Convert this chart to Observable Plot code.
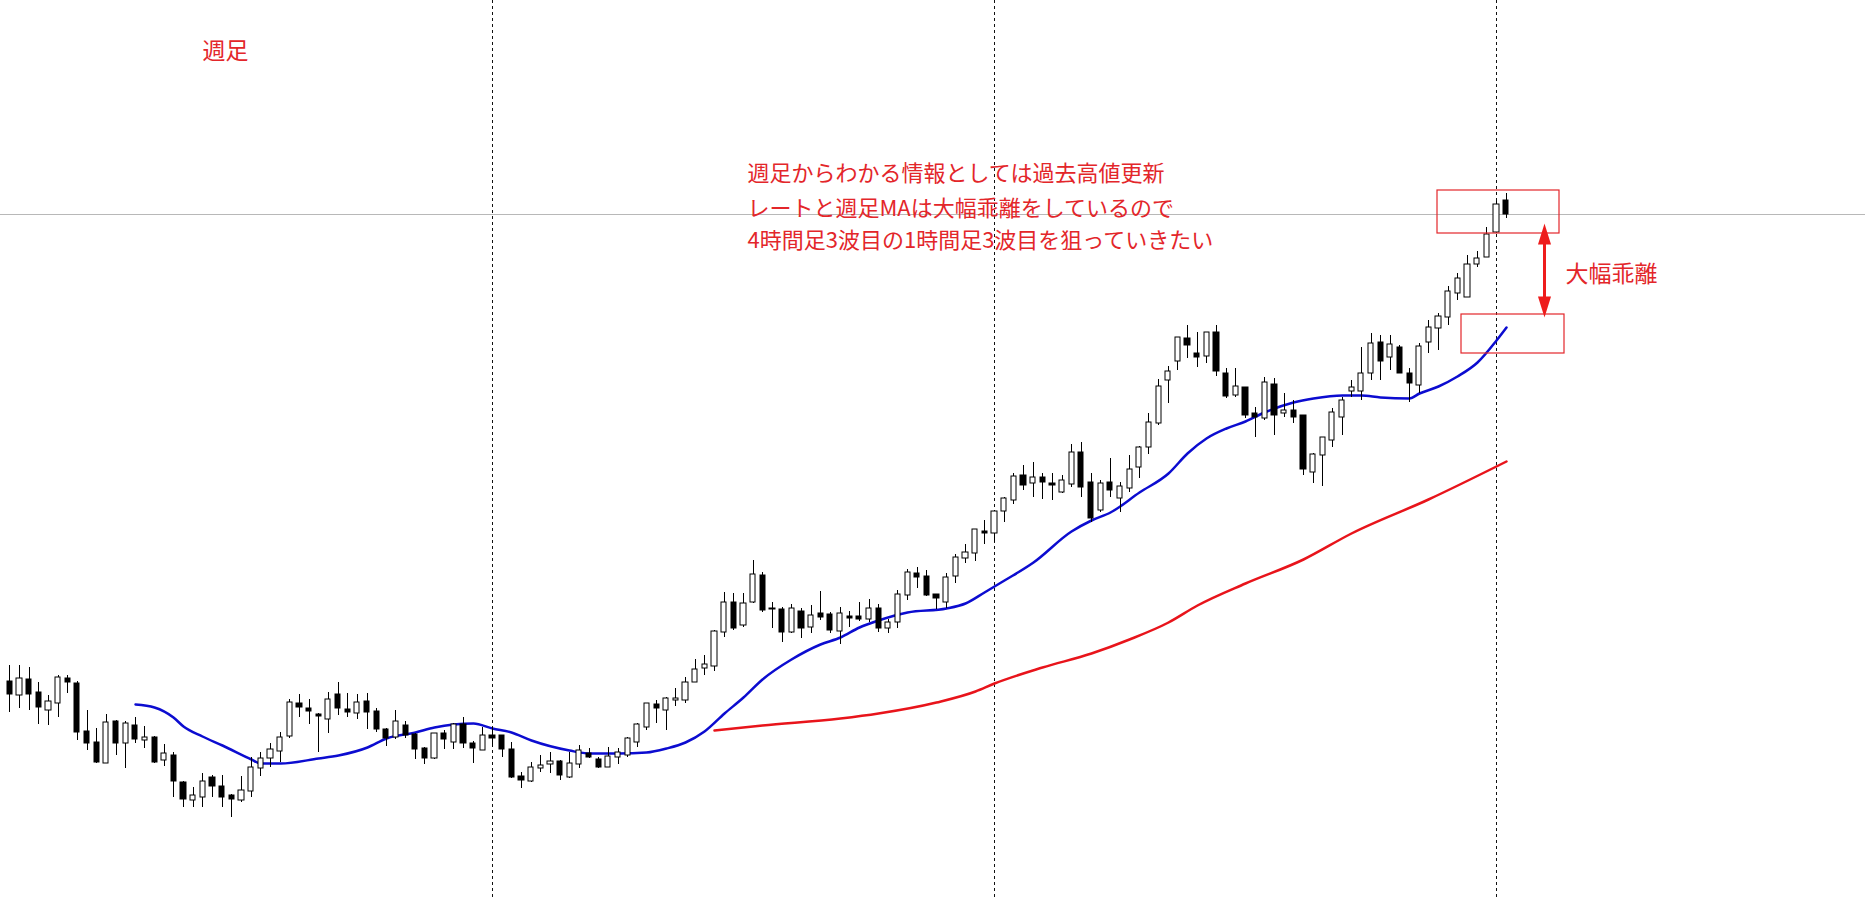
<!DOCTYPE html>
<html><head><meta charset="utf-8">
<script src="https://cdn.jsdelivr.net/npm/d3@7"></script>
<script src="https://cdn.jsdelivr.net/npm/@observablehq/plot@0.6"></script>
<style>html,body{margin:0;padding:0;background:#fff;overflow:hidden}#chart svg{display:block}</style>
</head><body><div id="chart"></div>
<script>
// weekly candles (index 0..155)
const openP = [101.9,100.5,102.1,100.8,99.0,99.7,102.2,101.7,96.9,95.8,
93.7,97.9,95.7,97.5,96.0,96.3,94.0,94.5,91.8,90.0,
90.3,92.3,91.4,90.5,90.0,90.9,93.2,94.2,94.9,96.4,
99.7,99.2,98.6,98.1,100.6,99.1,98.7,99.9,98.9,97.1,
96.3,97.5,96.6,95.2,94.2,96.7,95.8,97.6,95.7,95.0,
96.5,96.5,95.1,92.4,91.9,93.2,93.6,93.9,92.3,93.6,
94.7,94.1,93.3,94.3,94.5,95.8,97.3,99.6,99.0,100.0,
100.0,101.8,103.2,103.4,106.8,109.8,107.5,109.8,112.5,109.2,
109.1,106.8,108.9,107.3,108.7,108.6,106.9,108.4,108.4,108.1,
109.2,107.2,107.8,110.5,112.7,112.4,110.6,109.8,112.4,114.2,
114.7,116.9,116.7,118.9,120.0,122.5,121.7,122.3,121.7,120.8,
121.6,124.8,121.8,119.0,121.8,120.2,121.2,123.3,125.3,127.7,
132.0,133.9,136.2,134.7,134.4,136.8,132.7,130.5,131.3,128.7,
128.2,131.6,128.7,129.0,128.5,122.8,124.5,126.0,128.3,130.9,
130.9,132.7,135.8,134.3,135.3,132.7,131.5,135.8,137.2,138.3,
140.7,140.3,143.6,144.3,146.8,150.0];
const highP = [103.5,103.5,103.3,101.8,100.5,102.5,102.5,101.9,99.0,97.2,
98.6,98.0,97.9,98.3,97.4,96.4,95.6,94.8,91.9,91.3,
92.7,92.5,92.5,90.6,92.4,94.3,94.8,95.7,96.8,100.1,
100.6,100.1,98.7,100.8,101.8,100.7,100.6,100.7,99.2,97.2,
99.0,97.9,96.7,95.3,96.7,97.0,97.7,98.3,95.9,97.3,
97.3,96.5,95.8,92.8,93.8,94.5,94.8,94.0,94.8,95.5,
95.2,94.3,95.3,95.2,96.3,97.7,99.7,100.0,100.3,101.2,
102.3,104.1,104.5,107.0,110.8,110.7,110.7,114.0,112.8,109.8,
109.3,109.6,109.2,109.5,110.9,108.8,109.3,108.9,109.8,110.1,
109.6,108.1,111.0,113.1,113.3,113.0,110.6,112.7,114.6,115.6,
117.1,118.0,119.0,120.3,122.7,123.5,123.8,122.7,122.7,122.5,
125.6,125.8,122.7,122.0,124.2,121.8,124.5,125.4,128.7,132.1,
133.4,136.3,137.5,136.8,136.8,137.5,133.2,133.2,131.3,129.3,
132.3,132.2,130.7,130.0,128.5,124.7,126.3,129.2,130.3,132.0,
135.3,136.7,136.5,136.5,135.5,133.2,135.7,138.0,138.7,141.4,
142.7,144.5,144.9,147.3,149.9,150.7];
const lowP = [98.8,99.2,99.0,97.6,97.5,98.3,100.7,96.0,95.0,93.7,
93.7,94.5,93.2,95.7,95.2,93.7,93.4,90.3,89.3,89.3,
89.3,90.3,89.3,88.3,89.8,90.3,92.4,93.3,93.8,96.2,
98.3,97.6,94.8,96.7,98.5,98.3,98.1,97.1,96.8,95.4,
96.1,96.2,94.1,93.6,94.1,95.1,95.1,95.2,93.7,95.0,
95.3,94.3,92.2,91.2,91.8,92.8,92.7,92.0,92.2,93.2,
94.2,93.2,93.3,93.6,94.3,95.3,97.0,97.7,97.0,99.4,
99.7,101.8,102.5,102.9,106.3,107.0,107.3,109.7,108.8,107.2,
105.8,106.7,106.2,106.7,108.0,106.7,105.6,107.3,107.9,107.8,
106.8,106.7,107.2,110.0,111.2,110.4,109.1,109.2,111.7,113.7,
113.9,115.6,115.8,117.8,119.6,121.0,120.3,120.1,120.0,120.7,
121.3,120.3,117.8,118.8,120.3,118.8,120.8,122.2,124.6,127.5,
129.7,133.0,134.2,133.3,133.7,132.4,130.2,130.3,128.2,126.3,
128.0,126.5,128.3,127.7,122.5,121.7,121.4,125.3,126.5,130.3,
130.0,132.0,132.0,133.0,132.7,129.8,130.7,134.7,135.0,137.5,
140.0,140.3,143.3,144.3,146.7,148.2];
const closeP = [100.6,102.2,100.6,99.3,99.9,102.3,101.8,96.8,95.7,93.8,
97.8,95.7,97.7,96.1,96.3,93.8,94.7,91.9,90.1,90.5,
91.9,91.4,90.3,90.1,91.0,93.3,94.2,95.1,96.3,99.8,
99.3,98.9,98.4,100.1,99.2,98.8,99.8,98.8,97.1,96.2,
97.9,96.5,95.1,94.2,96.7,96.1,97.6,95.7,95.2,96.5,
96.2,95.1,92.3,92.0,93.3,93.5,93.9,92.5,93.7,95.0,
94.3,93.3,94.4,94.8,96.2,97.6,99.7,99.2,100.2,100.2,
101.8,103.1,103.6,106.9,109.8,107.2,109.7,112.6,109.0,109.1,
106.8,109.2,107.2,108.5,108.3,107.0,108.7,108.2,108.1,109.2,
107.2,107.8,110.6,112.8,112.3,110.5,110.2,112.3,114.3,114.8,
117.1,116.7,118.9,120.2,122.4,121.5,122.3,121.8,121.5,122.0,
124.8,121.3,118.2,121.7,121.0,121.4,123.1,125.3,127.8,131.4,
132.9,136.3,135.5,134.3,136.8,132.9,130.4,131.4,128.5,128.3,
131.8,128.5,129.0,128.3,123.1,124.6,126.3,128.8,130.0,131.3,
132.7,135.7,133.9,135.6,132.7,131.7,135.4,137.3,138.4,140.9,
142.2,143.6,144.2,146.6,149.6,148.6];

// weekly moving averages (week index, value)
const maFastWeek = [13,15,17,18,20,22,25,26,28,32,34,37,39,42,44,46,48,50,52,54,58,60,63,66,68,70,72,74,76,78,81,84,86,88,90,93,97,99,101,103,106,110,112,114,117,120,122,124,126,128,130,133,135,138,140,142,145,146,148,150,152,154,155];
const maFastVal = [99.6,99.3,98.3,97.4,96.4,95.5,94.1,93.7,93.7,94.2,94.5,95.3,96.2,96.8,97.3,97.6,97.7,97.2,96.8,96.0,95.0,94.7,94.7,94.8,95.2,95.8,96.9,98.7,100.3,102.1,104.1,105.6,106.3,107.3,108.0,108.8,109.2,109.7,110.8,112.0,113.8,116.9,118.0,118.8,120.8,122.7,124.7,126.2,127.2,127.9,128.8,129.8,130.2,130.5,130.5,130.3,130.2,130.7,131.4,132.4,133.8,136.0,137.3];
const maSlowWeek = [73,78,86,90,96,100,102,107,112,116,120,123,128,134,139,147,155];
const maSlowVal = [97.0,97.5,98.2,98.7,99.8,100.9,101.7,103.3,104.7,106.1,107.8,109.5,111.7,114.1,116.7,120.1,123.9];

// period separators and current price
const separatorWeeks = [50,102,154];
const bidPrice = 148.6;

// annotations
const titleText = "週足";
const noteLines = ["週足からわかる情報としては過去高値更新","レートと週足MAは大幅乖離をしているので","4時間足3波目の1時間足3波目を狙っていきたい"];
const noteY = [152.7,149.2,146.0];
const gapLabel = "大幅乖離";
const boxX1 = [147.9,150.4], boxX2 = [160.5,161.0], boxY1 = [151.0,138.6], boxY2 = [146.7,134.7];
const arrowWeek = 159.0, arrowTop = 147.7, arrowBottom = 138.3;

const RED = "#e3262a";
const FONT = "'Noto Sans CJK JP','Noto Sans',sans-serif";

const candles = openP.map((o,i)=>({i, open:o, high:highP[i], low:lowP[i], close:closeP[i]}));
const fast = maFastWeek.map((w,k)=>({w, v:maFastVal[k]}));
const slow = maSlowWeek.map((w,k)=>({w, v:maSlowVal[k]}));
const boxes = boxX1.map((x,k)=>({x1:x, x2:boxX2[k], y1:boxY1[k], y2:boxY2[k]}));
const notes = noteLines.map((t,k)=>({t, y:noteY[k]}));

const headUp = {draw(ctx){ctx.moveTo(0,0);ctx.lineTo(6.5,21);ctx.lineTo(-6.5,21);ctx.closePath();}};
const headDown = {draw(ctx){ctx.moveTo(0,0);ctx.lineTo(6.5,-21);ctx.lineTo(-6.5,-21);ctx.closePath();}};

const chart = Plot.plot({
  width: 1865, height: 898, margin: 0,
  x: {type:"linear", domain:[-0.9644, 192.223], axis:null, round:true},
  y: {type:"linear", domain:[80.2, 170], axis:null, round:true},
  style: {background:"#fff", fontFamily: FONT},
  marks: [
    Plot.ruleY([bidPrice], {stroke:"#b8b8b8", strokeWidth:1}),
    Plot.ruleX(separatorWeeks, {stroke:"#111", strokeWidth:1, strokeDasharray:"3,3"}),
    Plot.line(slow, {x:"w", y:"v", stroke:"#e8141b", strokeWidth:2.5, curve:"monotone-x"}),
    Plot.line(fast, {x:"w", y:"v", stroke:"#0c0cd0", strokeWidth:2.5, curve:"monotone-x"}),
    Plot.ruleX(candles, {x:"i", y1:"low", y2:"high", stroke:"#000", strokeWidth:1}),
    Plot.rect(candles, {filter:d=>d.close>=d.open, x1:d=>d.i-0.27, x2:d=>d.i+0.27, y1:"open", y2:"close", fill:"#fff", stroke:"#000", strokeWidth:1}),
    Plot.rect(candles, {filter:d=>d.close<d.open, x1:d=>d.i-0.27, x2:d=>d.i+0.27, y1:"open", y2:"close", fill:"#000", stroke:"#000", strokeWidth:1}),
    Plot.rect(boxes, {x1:"x1", x2:"x2", y1:"y1", y2:"y2", fill:"none", stroke:RED, strokeWidth:1.2}),
    Plot.ruleX([arrowWeek], {y1:arrowBottom+1.2, y2:arrowTop-1.2, stroke:"#ee1c1c", strokeWidth:3}),
    Plot.dot([{x:arrowWeek, y:arrowTop}], {x:"x", y:"y", symbol:headUp, r:5, fill:"#ee1c1c", stroke:"none"}),
    Plot.dot([{x:arrowWeek, y:arrowBottom}], {x:"x", y:"y", symbol:headDown, r:5, fill:"#ee1c1c", stroke:"none"}),
    Plot.text([titleText], {x:()=>20.0, y:()=>164.9, text:d=>d, textAnchor:"start", fontSize:23, fill:RED, fontFamily:FONT}),
    Plot.text(notes, {x:()=>76.4, y:"y", text:"t", textAnchor:"start", fontSize:22, fill:RED, fontFamily:FONT}),
    Plot.text([gapLabel], {x:()=>161.1, y:()=>142.6, text:d=>d, textAnchor:"start", fontSize:23, fill:RED, fontFamily:FONT})
  ]
});
document.getElementById("chart").appendChild(chart);
</script>
</body></html>
